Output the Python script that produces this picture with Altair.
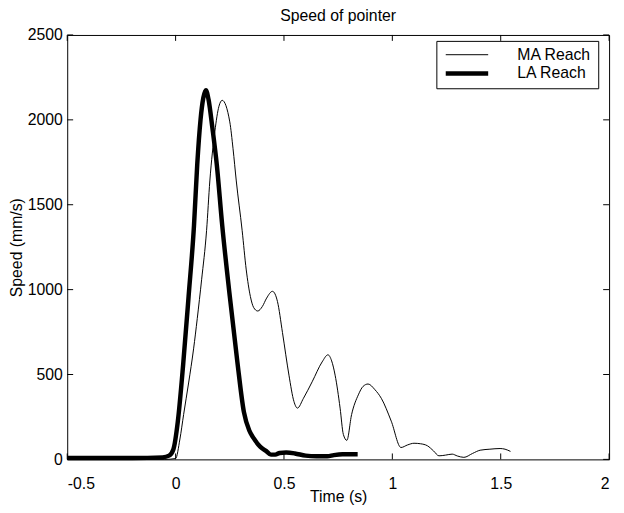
import altair as alt
import pandas as pd

# MA Reach (thin line)
ma_t = [-0.5, -0.2, -0.05, 0.0, 0.02, 0.037, 0.06, 0.083, 0.1, 0.12, 0.143, 0.158, 0.181, 0.2, 0.215,
        0.25, 0.265, 0.28, 0.307, 0.326, 0.345, 0.36, 0.379, 0.4, 0.42, 0.447, 0.47, 0.493, 0.523, 0.546,
        0.562, 0.59, 0.63, 0.676, 0.703, 0.72, 0.736, 0.759, 0.774, 0.79, 0.812, 0.843, 0.865, 0.888, 0.92,
        0.949, 0.995, 1.04, 1.07, 1.10, 1.13, 1.162, 1.19, 1.215, 1.245, 1.276, 1.30, 1.33, 1.37, 1.405,
        1.45, 1.497, 1.52, 1.545]
ma_v = [0, 0, 0, 5, 120, 264, 450, 651, 830, 1058, 1349, 1640, 1930, 2080, 2115,
        1988, 1830, 1640, 1349, 1116, 960, 895, 874, 900, 950, 990, 930, 748, 496, 341,
        302, 360, 457, 574, 616, 580, 496, 302, 147, 112, 264, 380, 430, 444, 410,
        360, 225, 70, 85, 95, 92, 80, 50, 21, 25, 31, 20, 12, 35, 54,
        60, 64, 60, 47]

# LA Reach (thick line)
la_t = [-0.5, -0.2, -0.06, -0.03, -0.01, 0.01, 0.035, 0.06, 0.085, 0.1, 0.115, 0.128, 0.14, 0.152,
        0.17, 0.19, 0.215, 0.25, 0.285, 0.315, 0.34, 0.36, 0.39, 0.417, 0.44, 0.46, 0.48, 0.51, 0.55,
        0.6, 0.65, 0.7, 0.73, 0.77, 0.84]
la_v = [8, 8, 12, 22, 60, 220, 560, 960, 1380, 1740, 2000, 2130, 2175, 2120,
        1950, 1737, 1380, 961, 574, 280, 170, 125, 75, 50, 28, 28, 38, 40, 35,
        22, 18, 18, 25, 30, 30]

series_names = ["MA Reach", "LA Reach"]
x_ticks = [-0.5, 0, 0.5, 1, 1.5, 2]
y_ticks = [0, 500, 1000, 1500, 2000, 2500]

W, H = 549, 430
FONT = "Liberation Sans"
FS = 16

df = pd.concat([
    pd.DataFrame({"t": ma_t, "v": ma_v, "series": series_names[0]}),
    pd.DataFrame({"t": la_t, "v": la_v, "series": series_names[1]}),
], ignore_index=True)

xscale = alt.Scale(domain=[-0.5, 2], nice=False, zero=False)
yscale = alt.Scale(domain=[0, 2500], nice=False)

legend_opts = dict(
    title=None, orient="none", legendX=374, legendY=6,
    strokeColor="black", fillColor="white", padding=7,
    symbolType="stroke", symbolSize=1849, clipHeight=14, rowPadding=3,
    labelFont=FONT, labelFontSize=FS, labelColor="black", labelOffset=27)

lines = alt.Chart(df).mark_line(interpolate="monotone").encode(
    x=alt.X("t:Q", scale=xscale, axis=alt.Axis(
        values=x_ticks, ticks=False, domain=False, grid=False,
        labelFont=FONT, labelFontSize=FS, labelColor="black",
        labelBaseline="alphabetic", labelPadding=29,
        labelExpr="'' + datum.value",
        title="Time (s)", titleFont=FONT, titleFontSize=FS, titleFontWeight="normal",
        titleColor="black", titleBaseline="alphabetic", titleY=42.5)),
    y=alt.Y("v:Q", scale=yscale, axis=alt.Axis(
        values=y_ticks, ticks=False, domain=False, grid=False,
        labelFont=FONT, labelFontSize=FS, labelColor="black", labelPadding=5,
        labelExpr="'' + datum.value",
        title="Speed (mm/s)", titleFont=FONT, titleFontSize=FS, titleFontWeight="normal",
        titleColor="black", titleX=-43)),
    color=alt.Color("series:N", scale=alt.Scale(domain=series_names, range=["black", "black"]),
                    legend=alt.Legend(**legend_opts)),
    strokeWidth=alt.StrokeWidth("series:N", scale=alt.Scale(domain=series_names, range=[1, 4.5]),
                                legend=alt.Legend(**legend_opts)),
)

xt = pd.DataFrame({"t": x_ticks})
yt = pd.DataFrame({"v": y_ticks})

tick_bottom = alt.Chart(xt).mark_rule(color="black", strokeWidth=1).encode(
    x=alt.X("t:Q", scale=xscale), y=alt.value(H), y2=alt.value(H - 6))
tick_top = alt.Chart(xt).mark_rule(color="black", strokeWidth=1).encode(
    x=alt.X("t:Q", scale=xscale), y=alt.value(0), y2=alt.value(6))
tick_left = alt.Chart(yt).mark_rule(color="black", strokeWidth=1).encode(
    y=alt.Y("v:Q", scale=yscale), x=alt.value(0), x2=alt.value(6))
tick_right = alt.Chart(yt).mark_rule(color="black", strokeWidth=1).encode(
    y=alt.Y("v:Q", scale=yscale), x=alt.value(W), x2=alt.value(W - 6))

chart = alt.layer(tick_bottom, tick_top, tick_left, tick_right, lines).properties(
    width=W, height=H,
    title=alt.TitleParams("Speed of pointer", font=FONT, fontSize=FS, fontWeight="normal",
                          color="black", anchor="middle", frame="group",
                          baseline="alphabetic", offset=14, dy=24),
    autosize=alt.AutoSizeParams(type="none"),
    padding={"left": 60, "top": 24, "right": 7, "bottom": 51},
    background="white",
).configure_view(stroke="black", strokeWidth=1)

chart.save("out.html", embed_options={"renderer": "svg", "actions": False})
